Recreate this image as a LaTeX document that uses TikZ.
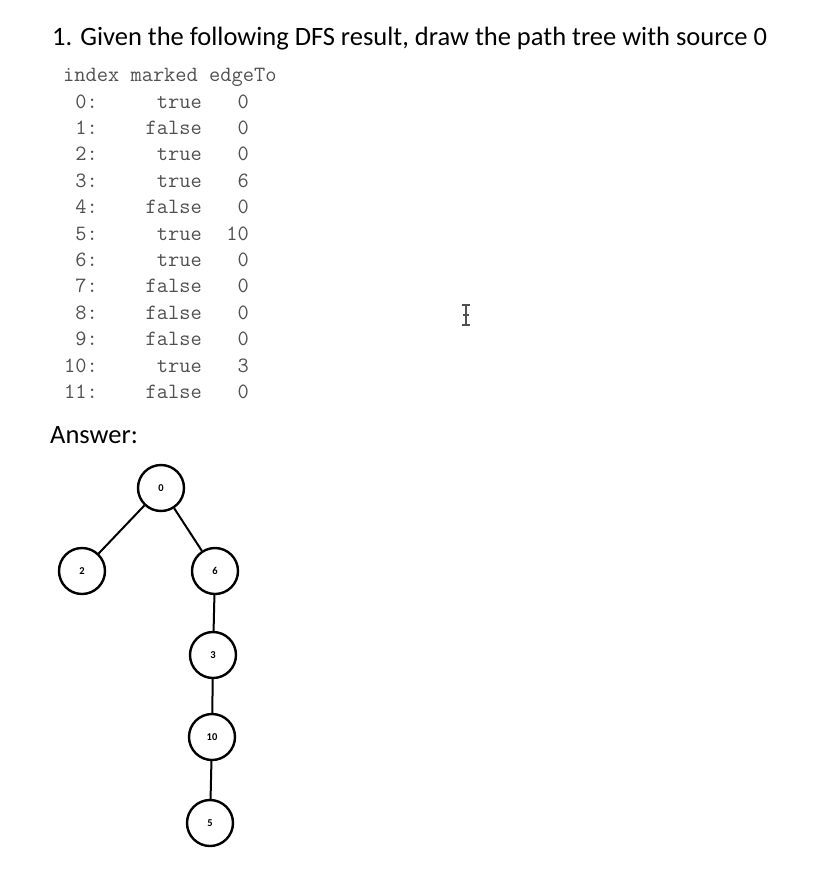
\documentclass[tikz,border=0pt]{standalone}
\usepackage{fontspec}
\setmainfont{Carlito}
\definecolor{tabgray}{HTML}{505050}
\begin{document}
\begin{tikzpicture}[x=1pt,y=-1pt,
  titletext/.style={anchor=base west,inner sep=0pt,font=\fontsize{26.5}{30}\selectfont},
  monohead/.style={anchor=base west,inner sep=0pt,text=tabgray,font=\ttfamily\fontsize{21.8}{24}\selectfont},
  monocell/.style={anchor=base east,inner sep=0pt,text=tabgray,font=\ttfamily\fontsize{21.8}{24}\selectfont},
  treenode/.style={circle,draw,line width=2.4pt,minimum size=46pt,inner sep=0pt,font=\bfseries\fontsize{10.5}{11}\selectfont},
  treeedge/.style={line width=2pt}]
\useasboundingbox (0,0) rectangle (816,878);
\node[titletext] (title) at (52,45) {1. Given the following DFS result, draw the path tree with source 0};
\node[monohead] (head) at (63,81) {index marked edgeTo};
\foreach \i/\m/\e in {0/true/0,1/false/0,2/true/0,3/true/6,4/false/0,5/true/10,6/true/0,7/false/0,8/false/0,9/false/0,10/true/3,11/false/0}{
  \node[monocell] (idx\i) at (98,108+26.4*\i) {\i:};
  \node[monocell] (mk\i) at (202,108+26.4*\i) {\m};
  \node[monocell] (et\i) at (249,108+26.4*\i) {\e};
}
\node[titletext] (answer) at (50,443) {Answer:};
\node[treenode] (n0) at (161,488) {0};
\node[treenode] (n2) at (82,571) {2};
\node[treenode] (n6) at (215,571) {6};
\node[treenode] (n3) at (213,655) {3};
\node[treenode] (n10) at (212,737) {10};
\node[treenode] (n5) at (210,823) {5};
\draw[treeedge] (n0) -- (n2);
\draw[treeedge] (n0) -- (n6);
\draw[treeedge] (n6) -- (n3);
\draw[treeedge] (n3) -- (n10);
\draw[treeedge] (n10) -- (n5);
% text cursor
\draw[line width=1.2pt,tabgray] (466,305) -- (466,325)
  (462,305) -- (470,305) (462,325) -- (470,325) (463,315) -- (469,315);
\end{tikzpicture}
\end{document}
